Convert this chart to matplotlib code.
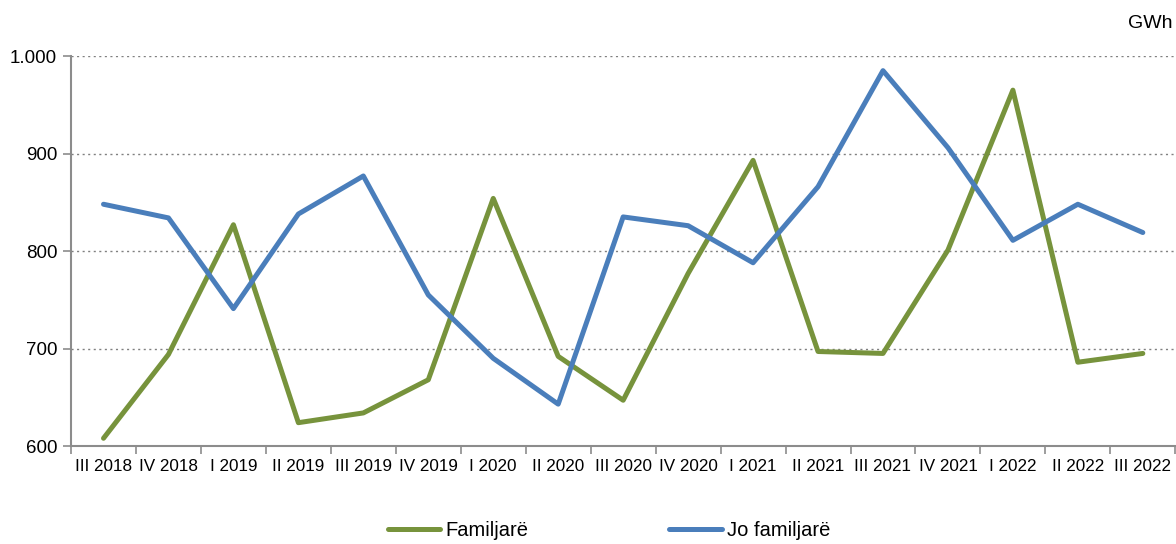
import numpy as np
import matplotlib
matplotlib.use("Agg")
import matplotlib.pyplot as plt

plt.rcParams['font.family'] = ['Liberation Sans', 'DejaVu Sans']

quarters = ["III 2018", "IV 2018", "I 2019", "II 2019", "III 2019", "IV 2019",
            "I 2020", "II 2020", "III 2020", "IV 2020", "I 2021", "II 2021",
            "III 2021", "IV 2021", "I 2022", "II 2022", "III 2022"]
familjare = [608, 694, 827, 624, 634, 668, 854, 692, 647, 777, 893, 697,
             695, 801, 965, 686, 695]
jo_familjare = [848, 834, 741, 838, 877, 755, 690, 643, 835, 826, 788, 866,
                985, 906, 811, 848, 819]

green = "#77933C"
blue = "#4A7EBB"
grey = "#8C8C8C"

fig = plt.figure(figsize=(11.76, 5.44), dpi=100)
ax = fig.add_axes([0.0604, 0.18, 0.939, 0.717])

x = np.arange(len(quarters))
ax.plot(x, familjare, color=green, lw=3.6, label="Familjarë", solid_capstyle="round")
ax.plot(x, jo_familjare, color=blue, lw=3.6, label="Jo familjarë", solid_capstyle="round")

ax.set_xlim(-0.5, len(quarters) - 0.5)
ax.set_ylim(600, 1000)
ax.set_yticks([600, 700, 800, 900, 1000])
ax.set_yticklabels(["600", "700", "800", "900", "1.000"], fontsize=13.5)

# category labels centred, ticks on the boundaries
ax.set_xticks(x)
ax.set_xticklabels(quarters, fontsize=12.3)
ax.tick_params(axis="x", which="major", length=0, pad=9)
ax.set_xticks(np.arange(-0.5, len(quarters)), minor=True)
ax.tick_params(axis="x", which="minor", length=6, width=1.2, color=grey)
ax.tick_params(axis="y", length=6, width=1.2, color=grey, pad=4)

ax.grid(axis="y", color="#808080", linestyle=(0, (1.5, 2.5)), lw=1)
ax.set_axisbelow(True)
for s in ["top", "right"]:
    ax.spines[s].set_visible(False)
for s in ["left", "bottom"]:
    ax.spines[s].set_color(grey)
    ax.spines[s].set_linewidth(1.5)

fig.text(0.997, 0.957, "GWh", ha="right", va="center", fontsize=14)

fig.legend(loc="center", bbox_to_anchor=(0.518, 0.025), ncol=2, frameon=False,
           fontsize=14.5, handlelength=2.6, columnspacing=7.0, handletextpad=0.25)

fig.savefig("out.png", dpi=100)
